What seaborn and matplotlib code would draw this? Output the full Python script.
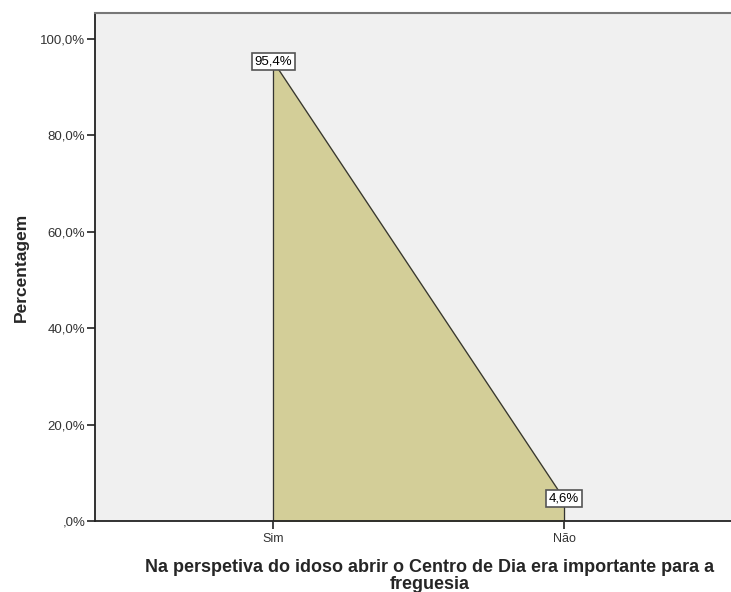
import pandas as pd
import matplotlib
matplotlib.use("Agg")
import matplotlib.pyplot as plt
import seaborn as sns

# dados
categorias = ["Sim", "Não"]
percentagens = [95.4, 4.6]
rotulos = ["95,4%", "4,6%"]
ticks_y = [0, 20, 40, 60, 80, 100]
ticks_y_txt = [",0%", "20,0%", "40,0%", "60,0%", "80,0%", "100,0%"]

df = pd.DataFrame({"resposta": categorias, "pct": percentagens})
df["pos"] = range(len(df))

sns.set_style("white")
plt.rcParams["font.family"] = ["Liberation Sans", "DejaVu Sans"]

fig = plt.figure(figsize=(7.31, 5.92), dpi=100)
ax = fig.add_axes([95 / 731, 71 / 592, 636 / 731, 508 / 592])
ax.set_facecolor("#f0f0f0")

# area
ax.fill_between(df["pos"], df["pct"], 0, color="#d3ce98", zorder=1)
sns.lineplot(data=df, x="pos", y="pct", color="#333333", linewidth=0.9, ax=ax, zorder=2)
for p, v in zip(df["pos"], df["pct"]):
    ax.plot([p, p], [0, v], color="#333333", linewidth=0.9, zorder=2)

# rotulos
for p, v, t in zip(df["pos"], df["pct"], rotulos):
    ax.text(p, v, t, ha="center", va="center", fontsize=9.5, color="black", zorder=3,
            bbox=dict(boxstyle="square,pad=0.2", facecolor="white", edgecolor="#555555", linewidth=1.2))

ax.set_xlim(-0.612, 1.574)
ax.set_ylim(0, 105.4)
ax.set_xticks(df["pos"])
ax.set_xticklabels(categorias, fontsize=9, color="#333333")
ax.set_yticks(ticks_y)
ax.set_yticklabels(ticks_y_txt, fontsize=9.5, color="#333333")
ax.tick_params(axis="y", direction="out", length=6, width=1.2, color="#222222", pad=1, left=True)
ax.tick_params(axis="x", direction="out", length=6, width=1.2, color="#222222", pad=3, bottom=True)

ax.set_xlabel("")
ax.set_ylabel("Percentagem", fontsize=12.5, fontweight="bold", labelpad=8)

for lado in ["left", "bottom"]:
    ax.spines[lado].set_color("#222222")
    ax.spines[lado].set_linewidth(1.3)
ax.spines["top"].set_color("#777777")
ax.spines["top"].set_linewidth(1.5)
ax.spines["right"].set_visible(False)

fig.text(430 / 731, 1 - 576 / 592,
         "Na perspetiva do idoso abrir o Centro de Dia era importante para a\nfreguesia",
         ha="center", va="center", fontsize=13, fontweight="bold", linespacing=0.95)

fig.savefig("out.png", dpi=100)
